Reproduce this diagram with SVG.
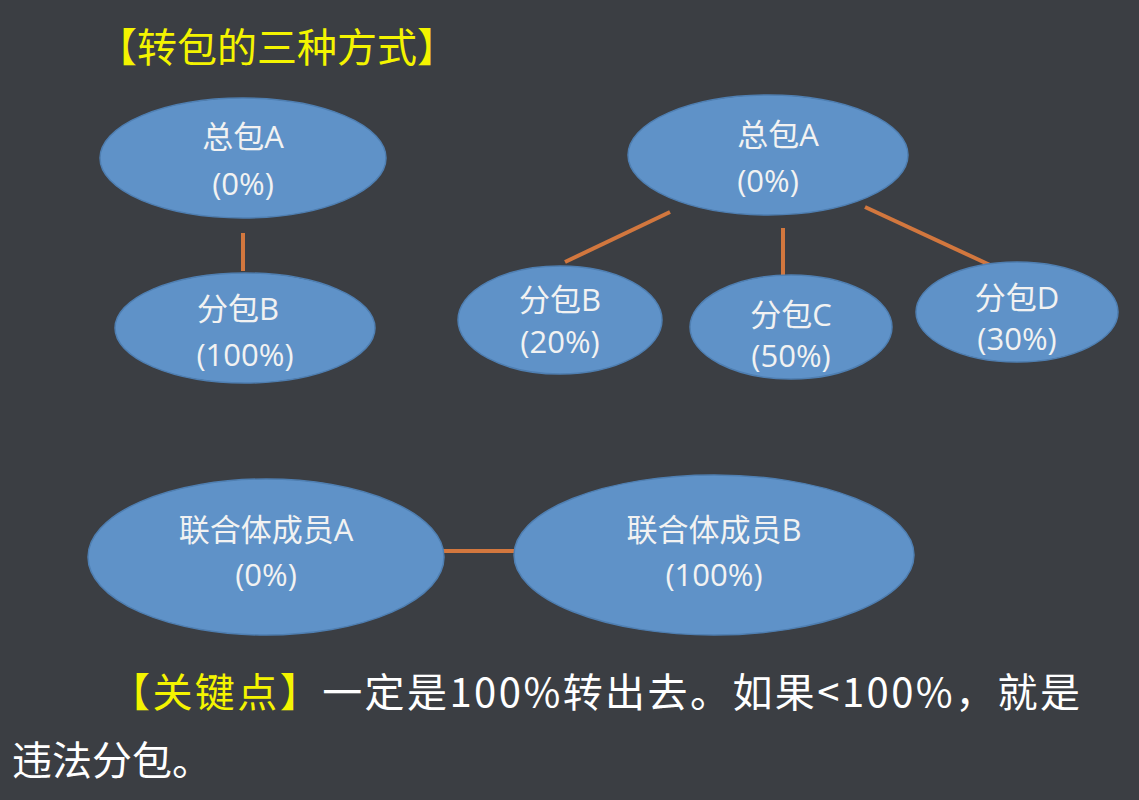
<svg xmlns="http://www.w3.org/2000/svg" width="1139" height="800" viewBox="0 0 1139 800">
<style>
.n{fill:#5f92c8;stroke:#4f7fb2;stroke-width:1.5}
.t{fill:#f2f2f2;font-family:"Open Sans","Noto Sans CJK SC",sans-serif;font-size:31px;text-anchor:middle}
.c{stroke:#d2773e;stroke-width:4}
.y{fill:#f4f400}
.w{fill:#ffffff}
.b{font-family:"Noto Sans CJK SC",sans-serif;font-size:40px}
</style>
<rect width="1139" height="800" fill="#3b3e43"/>
<text class="b y" x="97" y="62">【转包的三种方式】</text>
<g id="connectors">
<line class="c" x1="243" y1="233" x2="243" y2="271"/>
<line class="c" x1="670" y1="212" x2="565" y2="262"/>
<line class="c" x1="783" y1="228" x2="783" y2="278"/>
<line class="c" x1="865" y1="207" x2="990" y2="265"/>
<line class="c" x1="443" y1="551" x2="517" y2="551"/>
</g>
<g id="a1"><ellipse class="n" cx="243" cy="158" rx="143" ry="60"/><text class="t" x="243" y="148">总包A</text><text class="t" x="243" y="195">(0%)</text></g>
<g id="b1"><ellipse class="n" cx="245" cy="328" rx="130" ry="55"/><text class="t" x="238" y="320">分包B</text><text class="t" x="245" y="366">(100%)</text></g>
<g id="a2"><ellipse class="n" cx="768" cy="155" rx="140" ry="60"/><text class="t" x="778" y="146">总包A</text><text class="t" x="768" y="192">(0%)</text></g>
<g id="b2"><ellipse class="n" cx="560" cy="320" rx="102" ry="54"/><text class="t" x="560" y="311">分包B</text><text class="t" x="560" y="353">(20%)</text></g>
<g id="c2"><ellipse class="n" cx="791" cy="327" rx="101" ry="52"/><text class="t" x="791" y="326">分包C</text><text class="t" x="791" y="367">(50%)</text></g>
<g id="d2"><ellipse class="n" cx="1017" cy="312" rx="101" ry="50"/><text class="t" x="1017" y="309">分包D</text><text class="t" x="1017" y="350">(30%)</text></g>
<g id="u1"><ellipse class="n" cx="266" cy="557" rx="178" ry="78"/><text class="t" x="266" y="541">联合体成员A</text><text class="t" x="266" y="586">(0%)</text></g>
<g id="u2"><ellipse class="n" cx="714" cy="555" rx="200" ry="80"/><text class="t" x="714" y="541">联合体成员B</text><text class="t" x="714" y="586">(100%)</text></g>
<text class="b" x="110" y="707" textLength="970" lengthAdjust="spacing"><tspan class="y">【关键点】</tspan><tspan class="w">一定是100%转出去。如果&lt;100%，就是</tspan></text>
<text class="b w" x="12" y="775">违法分包。</text>
</svg>
